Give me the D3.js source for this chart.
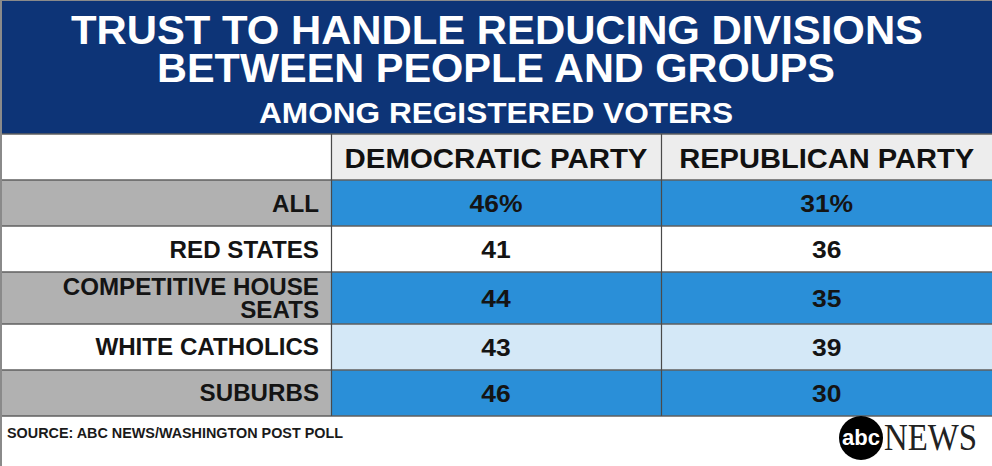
<!DOCTYPE html>
<html>
<head>
<meta charset="utf-8">
<script src="https://cdn.jsdelivr.net/npm/d3@7"></script>
<style>
  html, body { margin: 0; padding: 0; background: #fff; }
  svg { display: block; }
  text { font-family: "Liberation Sans", Arial, Helvetica, sans-serif; font-weight: bold; }
</style>
</head>
<body>
<svg id="chart" width="992" height="466"></svg>
<script>
// ---- data ----
const titleLines = ["TRUST TO HANDLE REDUCING DIVISIONS", "BETWEEN PEOPLE AND GROUPS"];
const subtitle = "AMONG REGISTERED VOTERS";
const columns = ["DEMOCRATIC PARTY", "REPUBLICAN PARTY"];
const categories = ["ALL", "RED STATES", "COMPETITIVE HOUSE SEATS", "WHITE CATHOLICS", "SUBURBS"];
const categoryLines = [["ALL"], ["RED STATES"], ["COMPETITIVE HOUSE", "SEATS"], ["WHITE CATHOLICS"], ["SUBURBS"]];
const demValues = [46, 41, 44, 43, 46];
const repValues = [31, 36, 35, 39, 30];
const source = "SOURCE: ABC NEWS/WASHINGTON POST POLL";

// ---- styles ----
const W = 992, H = 466;
const navy = "#0d3477";
const labelFills = ["#b1b1b1", "#ffffff", "#b1b1b1", "#ffffff", "#b1b1b1"];
const cellFills = ["#2a8fd8", "#ffffff", "#2a8fd8", "#d4e8f7", "#2a8fd8"];

const svg = d3.select("#chart");

function fit(sel, target) {
  sel.attr("textLength", target).attr("lengthAdjust", "spacingAndGlyphs");
}
function stretch(sel, factor) {
  sel.each(function() {
    const n = this.getComputedTextLength();
    d3.select(this).attr("textLength", n * factor).attr("lengthAdjust", "spacingAndGlyphs");
  });
}

// background
svg.append("rect").attr("width", W).attr("height", H).attr("fill", "#fff");

// title band
svg.append("rect").attr("x", 0).attr("y", 0).attr("width", W).attr("height", 134).attr("fill", navy);
const title = svg.append("text").attr("text-anchor", "middle").attr("fill", "#fff");
const titleX = [497, 496], titleY = [44, 82], titleSize = [41, 40], titleW = [852, 678];
titleLines.forEach((ln, k) => {
  const ts = title.append("tspan").attr("x", titleX[k]).attr("y", titleY[k])
    .attr("font-size", titleSize[k]).text(ln);
  fit(ts, titleW[k]);
});
const st = svg.append("text").attr("x", 496).attr("y", 123).attr("text-anchor", "middle")
  .attr("fill", "#fff").attr("font-size", 30).text(subtitle);
fit(st, 474);

// scales
const x = d3.scaleBand().domain(["label"].concat(columns)).range([0, W]);
const units = categoryLines.map(l => 1 + (l.length - 1) * 0.13);
const cum = d3.cumsum([0].concat(units));
const y = d3.scaleLinear().domain([0, d3.sum(units)]).range([180, 416]);
const rowTop = i => y(cum[i]);
const rowH = i => y(cum[i + 1]) - y(cum[i]);

// header row
const headTop = 134, headBottom = 180;
svg.append("rect").attr("x", 0).attr("y", headTop).attr("width", x.bandwidth()).attr("height", headBottom - headTop).attr("fill", "#fff");
svg.selectAll("rect.head").data(columns).join("rect").attr("class", "head")
  .attr("x", d => x(d)).attr("y", headTop).attr("width", x.bandwidth()).attr("height", headBottom - headTop)
  .attr("fill", "#ededed");
const headerWidths = [303, 295];
svg.selectAll("text.head").data(columns).join("text").attr("class", "head")
  .attr("x", d => x(d) + x.bandwidth() / 2).attr("y", 168).attr("text-anchor", "middle")
  .attr("font-size", 27).attr("fill", "#111").text(d => d)
  .each(function(d, i) { fit(d3.select(this), headerWidths[i]); });

// rows
const rows = svg.selectAll("g.row").data(categories).join("g").attr("class", "row");
rows.append("rect").attr("x", 0).attr("y", (d, i) => rowTop(i)).attr("width", x.bandwidth()).attr("height", (d, i) => rowH(i))
  .attr("fill", (d, i) => labelFills[i]);
rows.append("rect").attr("x", x(columns[0])).attr("y", (d, i) => rowTop(i)).attr("width", x.bandwidth()).attr("height", (d, i) => rowH(i))
  .attr("fill", (d, i) => cellFills[i]);
rows.append("rect").attr("x", x(columns[1])).attr("y", (d, i) => rowTop(i)).attr("width", W - x(columns[1])).attr("height", (d, i) => rowH(i))
  .attr("fill", (d, i) => cellFills[i]);

// labels (one text element per row, one tspan per line)
rows.each(function(d, i) {
  const g = d3.select(this);
  const lines = categoryLines[i];
  const cy = rowTop(i) + rowH(i) / 2;
  const lh = 23;
  const t = g.append("text").attr("text-anchor", "end").attr("font-size", 23).attr("fill", "#141414");
  lines.forEach((ln, k) => {
    const ts = t.append("tspan").attr("x", 319)
      .attr("y", cy + 8.5 + (k - (lines.length - 1) / 2) * lh).text(ln);
    stretch(ts, 1.05);
  });
});

// values
const fmt = (v, i) => i === 0 ? v + "%" : String(v);
[demValues, repValues].forEach((vals, c) => {
  const sel = svg.selectAll("text.val" + c).data(vals).join("text").attr("class", "val" + c)
    .attr("x", x(columns[c]) + x.bandwidth() / 2)
    .attr("y", (d, i) => rowTop(i) + rowH(i) / 2 + 9)
    .attr("text-anchor", "middle").attr("font-size", 23).attr("fill", "#141414")
    .text((d, i) => fmt(d, i));
  stretch(sel, 1.15);
});

// grid lines
const hLines = [headTop, headBottom].concat(categories.map((d, i) => rowTop(i + 1)));
svg.selectAll("line.h").data(hLines).join("line").attr("class", "h")
  .attr("x1", 0).attr("x2", W).attr("y1", d => d).attr("y2", d => d)
  .attr("stroke", "#5f5f5f").attr("stroke-width", 1.5);
svg.selectAll("line.v").data(columns).join("line").attr("class", "v")
  .attr("x1", d => Math.round(x(d)) + 0.5).attr("x2", d => Math.round(x(d)) + 0.5)
  .attr("y1", headTop).attr("y2", 416)
  .attr("stroke", "#4a4a4a").attr("stroke-width", 1.2);

// outer frame
svg.append("line").attr("x1", 1).attr("x2", 1).attr("y1", 0).attr("y2", H).attr("stroke", "#8a8a8a").attr("stroke-width", 2);
svg.append("line").attr("x1", 0).attr("x2", W).attr("y1", 0.5).attr("y2", 0.5).attr("stroke", "#8a8a8a").attr("stroke-width", 1);

// source
const src = svg.append("text").attr("x", 7).attr("y", 438).attr("font-size", 14).attr("fill", "#1a1a1a").text(source);
fit(src, 336);

// logo
const logo = svg.append("g");
logo.append("circle").attr("cx", 861).attr("cy", 438).attr("r", 22).attr("fill", "#000");
const abc = logo.append("text").attr("x", 861).attr("y", 445).attr("text-anchor", "middle")
  .attr("font-size", 22).attr("fill", "#fff").text("abc");
fit(abc, 38);
const news = logo.append("text").attr("x", 884).attr("y", 450)
  .attr("font-size", 38).attr("fill", "#222")
  .style("font-family", "'Liberation Serif', 'Times New Roman', serif").style("font-weight", "normal")
  .text("NEWS");
fit(news, 93);
</script>
</body>
</html>
